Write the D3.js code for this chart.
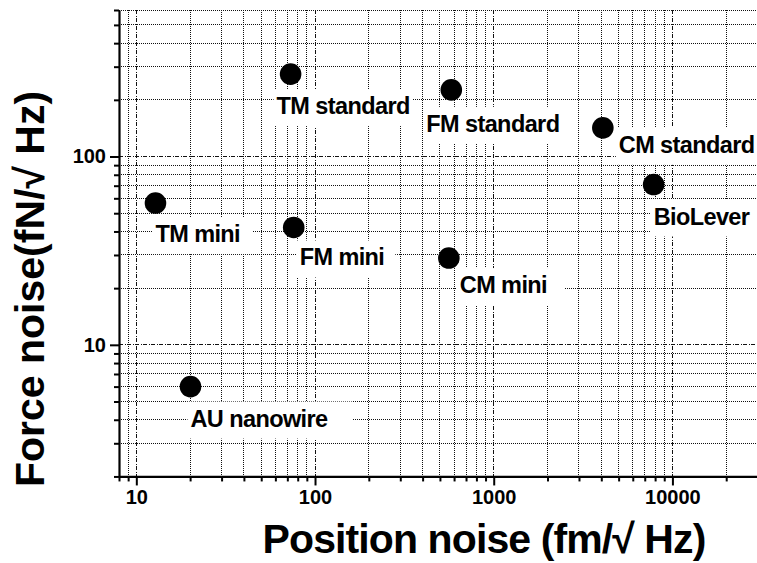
<!DOCTYPE html>
<html>
<head>
<meta charset="utf-8">
<script src="https://cdn.jsdelivr.net/npm/d3@7"></script>
<style>
  html, body { margin: 0; padding: 0; background: #fff; }
  svg { display: block; }
  text { font-family: "Liberation Sans", Arial, Helvetica, sans-serif; font-weight: bold; fill: #000; }
</style>
</head>
<body>
<svg id="chart" width="757" height="563"></svg>
<script>
// Cantilever noise comparison: position noise vs force noise (log-log)
const names = ["TM standard", "FM standard", "CM standard", "BioLever",
               "TM mini", "FM mini", "CM mini", "AU nanowire"];
const positionNoise = [73, 579, 4080, 7850, 12.8, 76, 561, 20.1];   // fm/√Hz
const forceNoise    = [274, 226, 142, 71, 56.6, 42, 28.9, 6.0];      // fN/√Hz
const xMajorTicks = [10, 100, 1000, 10000];
const yMajorTicks = [10, 100];

// label placement relative to each marker: [dx, dy, extra right padding of the white box]
const labelLayout = [
  [-14, 40, 0], [-25, 42, 0], [16, 25, 10], [0, 40, 10],
  [0, 39, 9], [6, 38, 8], [11, 35, 14], [0, 40, 21]
];

const svg = d3.select("#chart");
const margin = { left: 119, top: 10 };
const decadeW = 178.7, decadeH = 188.3;
const x = d3.scaleLog().domain([8, 30000])
  .range([margin.left, margin.left + decadeW * Math.log10(30000 / 8)]);
const y = d3.scaleLog().domain([2, 600])
  .range([margin.top + decadeH * Math.log10(300), margin.top]);

const x0 = x.range()[0], x1 = x.range()[1];
const y0 = y.range()[0], y1 = y.range()[1];

const xAll = x.ticks();
const yAll = y.ticks();
const isMajor = v => Math.abs(Math.log10(v) - Math.round(Math.log10(v))) < 1e-9;

// grid
const grid = svg.append("g").attr("class", "grid");
grid.selectAll("line.v").data(xAll.filter(v => v > 8)).enter().append("line")
  .attr("x1", d => x(d)).attr("x2", d => x(d))
  .attr("y1", y1).attr("y2", y0)
  .attr("stroke", "#111").attr("stroke-width", 1)
  .attr("stroke-dasharray", d => isMajor(d) ? "4,1.5,1,1.5" : "1,1")
  .attr("shape-rendering", "crispEdges");
grid.selectAll("line.h").data(yAll.filter(v => v > 2)).enter().append("line")
  .attr("x1", x0).attr("x2", x1)
  .attr("y1", d => y(d)).attr("y2", d => y(d))
  .attr("stroke", "#111").attr("stroke-width", 1)
  .attr("stroke-dasharray", d => isMajor(d) ? "4,1.5,1,1.5" : "1,1")
  .attr("shape-rendering", "crispEdges");

// point labels with white backgrounds
const labels = svg.append("g").attr("class", "labels");
names.forEach((name, i) => {
  const [dx, dy, extra] = labelLayout[i];
  const g = labels.append("g");
  const t = g.append("text")
    .attr("x", x(positionNoise[i]) + dx)
    .attr("y", y(forceNoise[i]) + dy)
    .attr("font-size", 23.5)
    .attr("letter-spacing", -0.6)
    .text(name);
  const b = t.node().getBBox();
  g.insert("rect", "text")
    .attr("x", b.x - 3).attr("y", b.y - 4)
    .attr("width", b.width + 6 + extra).attr("height", b.height + 11)
    .attr("fill", "#fff");
});

// axes
const xAxis = d3.axisBottom(x).tickValues(xAll)
  .tickFormat(d => xMajorTicks.includes(d) ? d3.format("d")(d) : "")
  .tickSizeOuter(0).tickPadding(7);
const gx = svg.append("g").attr("transform", `translate(0,${y0})`).call(xAxis);
gx.selectAll(".tick line").attr("y2", d => isMajor(d) ? 9 : 5)
  .attr("stroke-width", 2);
gx.select(".domain").attr("stroke-width", 2.2);
gx.selectAll(".tick text").attr("font-size", 20).attr("font-family", null);

const yAxis = d3.axisLeft(y).tickValues(yAll)
  .tickFormat(d => yMajorTicks.includes(d) ? d3.format("d")(d) : "")
  .tickSizeOuter(0).tickPadding(4);
const gy = svg.append("g").attr("transform", `translate(${x0},0)`).call(yAxis);
gy.selectAll(".tick line").attr("x2", d => isMajor(d) ? -9 : -5)
  .attr("stroke-width", 2);
gy.select(".domain").attr("stroke-width", 2.2);
gy.selectAll(".tick text").attr("font-size", 20).attr("font-family", null)
  .attr("x", -13);

// markers
svg.append("g").selectAll("circle").data(names).enter().append("circle")
  .attr("cx", (d, i) => x(positionNoise[i]))
  .attr("cy", (d, i) => y(forceNoise[i]))
  .attr("r", 10.8).attr("fill", "#000");

// axis titles
svg.append("text")
  .attr("x", 484).attr("y", 553)
  .attr("text-anchor", "middle")
  .attr("font-size", 41).attr("letter-spacing", -0.9)
  .text("Position noise (fm/\u221A Hz)");

svg.append("text")
  .attr("transform", "translate(44,289) rotate(-90)")
  .attr("text-anchor", "middle")
  .attr("font-size", 41)
  .text("Force noise(fN/\u221A Hz)");
</script>
</body>
</html>
